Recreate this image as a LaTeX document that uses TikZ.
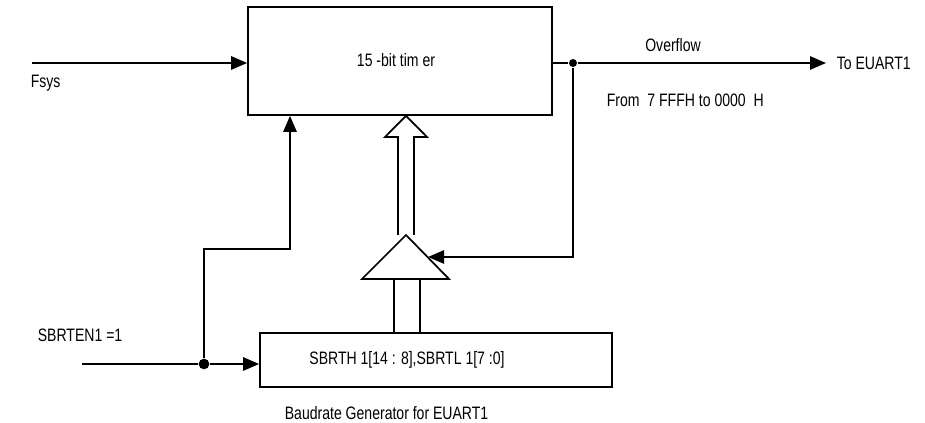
\documentclass[tikz,border=0pt]{standalone}
\usepackage{fontspec}
\setmainfont[FakeStretch=0.78]{Liberation Sans}
\usetikzlibrary{arrows.meta,calc}
\begin{document}
\begin{tikzpicture}[x=0.75pt,y=-0.75pt,
  line width=1.3pt,
  every node/.style={font=\fontsize{13.5}{15}\selectfont},
  blk/.style={draw,rectangle,inner sep=0pt},
  lbl/.style={inner sep=0pt},
  arr/.style={-{Triangle[length=12pt,width=10pt]}},
  jdot/.style={circle,fill,inner sep=0pt,minimum size=#1},
]
\useasboundingbox (0,0) rectangle (925,423);
% blocks
\node[blk,minimum width=228pt,minimum height=81pt] (timer) at (400,61) {};
\node[lbl] (timertxt) at (396,60) {15 -bit tim er};
\node[blk,minimum width=264pt,minimum height=40.5pt] (sbrt) at (436,360) {};
\node[lbl] (sbrttxt) at (407,360) {SBRTH 1[14 : 8],SBRTL 1[7 :0]};
% triangle (adder)
\coordinate (tapex) at (406,235);
\coordinate (tbl) at (362,279);
\coordinate (tbr) at (449,279);
\draw (tapex) -- (tbl) -- (tbr) -- cycle;
% hollow arrow up
\draw (398,235) -- (398,137) -- (385,137) -- (timer.south -| tapex) -- (427,137) -- (414,137) -- (414,235);
% bus from sbrt to triangle
\draw (394,279) -- (394,333);
\draw (420,279) -- (420,333);
% labels
\node[lbl,anchor=west] (fsys) at (30,83) {Fsys};
\node[lbl] (ovf) at (673,45) {Overflow};
\node[lbl,anchor=west] (toeu) at (836,63) {To EUART1};
\node[lbl,anchor=west] (from) at (606,100) {From\ \ 7 FFFH to 0000\ \ H};
\node[lbl,anchor=west] (en) at (37,335) {SBRTEN1 =1};
\node[lbl,anchor=west] (baud) at (284,413) {Baudrate Generator for EUART1};
% connectors
\coordinate (fin) at (32,63);
\draw[arr] (fin) -- (timer.west |- fin);
\node[jdot=6pt] (d1) at (573,63) {};
\draw (timer.east |- d1) -- (d1);
\coordinate (oend) at (826,63);
\draw[arr] (d1) -- (oend);
\coordinate (fb) at (573,257);
\coordinate (tin) at (428,257);
\draw[arr] (d1) -- (fb) -- (tin);
\coordinate (ein) at (82,364);
\node[jdot=8pt] (d2) at (204,364) {};
\draw (ein) -- (d2);
\draw[arr] (d2) -- (sbrt.west |- d2);
\coordinate (c1) at (204,249);
\coordinate (c2) at (290,249);
\draw[arr] (d2) -- (c1) -- (c2) -- (timer.south -| c2);
\end{tikzpicture}
\end{document}
